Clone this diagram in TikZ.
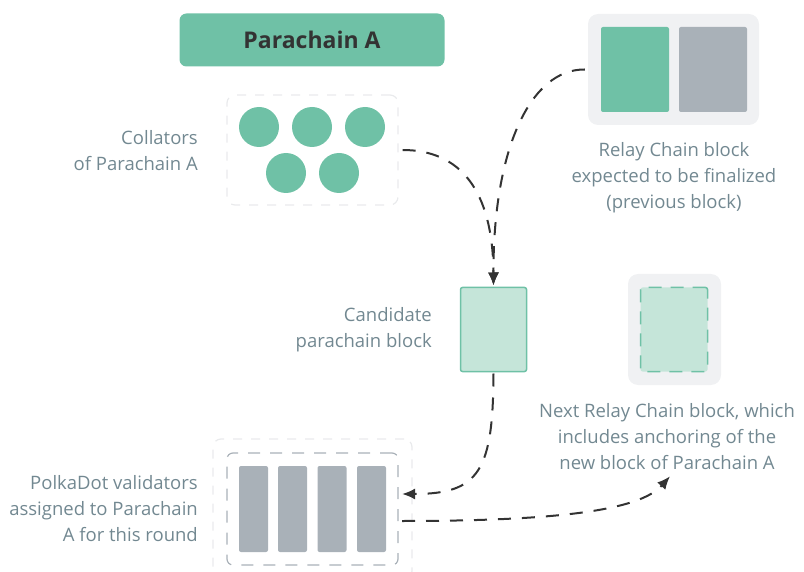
\documentclass[tikz,border=0pt]{standalone}
\usepackage{fontspec}
\setmainfont{Open Sans}
\usetikzlibrary{arrows.meta}

\definecolor{paragreen}{HTML}{6FC1A6}
\definecolor{paralight}{HTML}{C5E5D9}
\definecolor{blockgray}{HTML}{A9B1B8}
\definecolor{framegray}{HTML}{F0F1F3}
\definecolor{ghostgray}{HTML}{E9EAEC}
\definecolor{labelgray}{HTML}{728891}
\definecolor{inkdark}{HTML}{333333}

\tikzset{
  txt/.style={font=\fontsize{18.5}{26}\selectfont, text=labelgray, inner sep=0pt},
  ghostbox/.style={draw=ghostgray, line width=1.2pt, dash pattern=on 9pt off 9pt, rounded corners=8pt, inner sep=0pt},
  collator/.style={circle, fill=paragreen, minimum size=40pt, inner sep=0pt},
  valbar/.style={fill=blockgray, rounded corners=2pt, minimum width=29pt, minimum height=86pt, inner sep=0pt},
  relayframe/.style={fill=framegray, rounded corners=10pt, inner sep=0pt},
  flow/.style={draw=inkdark, line width=2pt, dash pattern=on 13pt off 11pt, -{Latex[length=13pt,width=11pt]}},
}

\begin{document}
\begin{tikzpicture}[x=1pt,y=-1pt]
  \useasboundingbox (0,0) rectangle (804,572);

  % parachain title
  \node[fill=paragreen, rounded corners=7pt, minimum width=265pt, minimum height=53pt, inner sep=0pt,
        font=\fontsize{23}{26}\selectfont\bfseries, text=inkdark] (title) at (312,40) {Parachain A};

  % collators
  \node[ghostbox, minimum width=171pt, minimum height=110pt] (colbox) at (312.5,150) {};
  \foreach \cx/\cy [count=\i] in {259/127, 312/127, 365/127, 286/173, 339/173}
    \node[collator] (col\i) at (\cx,\cy) {};
  \node[txt, align=right, anchor=east] (collbl) at (198,151) {Collators\\of Parachain A};

  % previous relay chain block
  \node[relayframe, minimum width=171pt, minimum height=111pt] (relay) at (673.5,69.5) {};
  \node[fill=paragreen, rounded corners=2pt, minimum width=68pt, minimum height=85pt, inner sep=0pt] (relaypara) at (635,69.5) {};
  \node[fill=blockgray, rounded corners=2pt, minimum width=68pt, minimum height=85pt, inner sep=0pt] (relayrest) at (713,69.5) {};
  \node[txt, align=center] (relaylbl) at (674,178) {Relay Chain block\\expected to be finalized\\(previous block)};

  % candidate block
  \node[draw=paragreen, fill=paralight, line width=1.5pt, rounded corners=2pt, minimum width=66pt, minimum height=84pt,
        inner sep=0pt, outer sep=2pt] (cand) at (493.5,329.5) {};
  \node[txt, align=right, anchor=east] (candlbl) at (432,330) {Candidate\\parachain block};

  % next relay chain block
  \node[relayframe, minimum width=93pt, minimum height=111pt] (next) at (674.5,329.5) {};
  \node[draw=paragreen, fill=paralight, line width=1.5pt, dash pattern=on 13pt off 9pt, rounded corners=2pt,
        minimum width=67pt, minimum height=84pt, inner sep=0pt] (nextpara) at (674,329.5) {};
  \node[txt, align=center] (nextlbl) at (667,437) {Next Relay Chain block, which\\includes anchoring of the\\new block of Parachain A};

  % validators
  \node[ghostbox, minimum width=199pt, minimum height=140pt] (valout) at (312.5,509) {};
  \node[draw=blockgray, line width=1.2pt, dash pattern=on 12pt off 10pt, rounded corners=6pt,
        minimum width=171pt, minimum height=112pt, inner sep=0pt, outer sep=4pt] (val) at (312.5,509) {};
  \foreach \vx [count=\i] in {253.5, 292.5, 332, 371.5}
    \node[valbar] (bar\i) at (\vx,509) {};
  \node[txt, align=right, anchor=east] (vallbl) at (198,509) {PolkaDot validators\\assigned to Parachain\\A for this round};

  % connectors
  \draw[flow] ([xshift=4pt]colbox.east) .. controls (460,150) and (493,190) .. (cand.north);
  \draw[flow] ([xshift=-3pt]relay.west) .. controls (530,69) and (493,150) .. (cand.north);
  \draw[flow] (cand.south) .. controls (493,470) and (480,494) .. ([yshift=15pt]val.east);
  \draw[flow] ([yshift=-12pt]val.east) .. controls (560,521) and (640,510) .. ([xshift=3pt,yshift=-6pt]nextlbl.south);
\end{tikzpicture}
\end{document}
